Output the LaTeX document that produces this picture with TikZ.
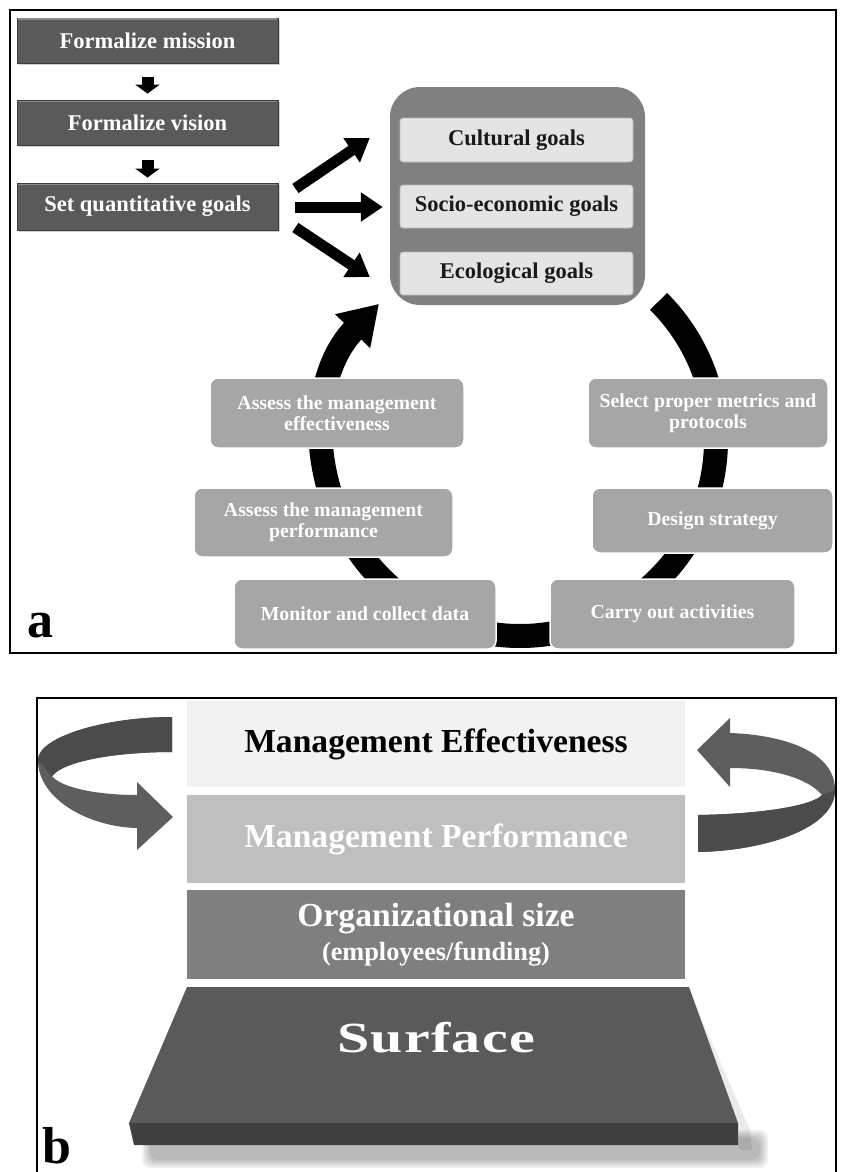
\documentclass[tikz,border=0pt]{standalone}
\usepackage{fontspec}
\setmainfont{Liberation Serif}
\usetikzlibrary{arrows.meta,calc,shadows}
\definecolor{flowgray}{HTML}{5A5A5A}
\definecolor{flowedge}{HTML}{3C3C3C}
\definecolor{flowlight}{HTML}{8A8A8A}
\definecolor{biggray}{HTML}{808080}
\definecolor{goalfill}{HTML}{E4E4E4}
\definecolor{goaledge}{HTML}{B8B8B8}
\definecolor{cyclefill}{HTML}{A6A6A6}
\definecolor{mefill}{HTML}{F2F2F2}
\definecolor{mpfill}{HTML}{BFBFBF}
\definecolor{osfill}{HTML}{7F7F7F}
\definecolor{slabtop}{HTML}{5A5A5A}
\definecolor{slabfront}{HTML}{404040}
\definecolor{ribbon}{HTML}{5E5E5E}
\definecolor{ribbondark}{HTML}{4B4B4B}
\newcommand\ftA{\bfseries\fontsize{22.5}{25}\selectfont}
\newcommand\ftC{\bfseries\fontsize{19.8}{21}\selectfont}
\newcommand\ftB{\bfseries\fontsize{33.6}{36}\selectfont}
\newcommand\ftBs{\bfseries\fontsize{26.3}{28}\selectfont}
\begin{document}
\begin{tikzpicture}[x=1pt,y=-1pt,
  flowbox/.style={rectangle,fill=flowgray,draw=flowedge,line width=0.8pt,text=white,font=\ftA,
    minimum width=261pt,minimum height=45pt,inner sep=0pt,
    drop shadow={shadow xshift=1.5pt,shadow yshift=-2pt,opacity=0.35}},
  goalbox/.style={rectangle,rounded corners=3pt,fill=goalfill,draw=goaledge,line width=0.8pt,
    text=black!90,font=\ftA,minimum width=233pt,minimum height=43pt,inner sep=0pt,
    drop shadow={shadow xshift=1.5pt,shadow yshift=-2pt,opacity=0.3}},
  cyclebox/.style={rectangle,rounded corners=8pt,fill=cyclefill,draw=white,line width=1.5pt,
    text=white,font=\ftC,align=center,inner sep=0pt,minimum height=70pt},
  blockarrow/.style={line width=11pt,-{Triangle[width=28pt,length=22pt]}},
  smallarrow/.style={line width=12pt,-{Triangle[width=24pt,length=9pt]}},
  ring/.style={line width=24pt,-{Triangle[width=46pt,length=38pt]}},
  layer/.style={rectangle,inner sep=0pt,minimum width=498pt,font=\ftB},
  framebox/.style={line width=2pt,draw=black},
  bevel/.style={draw=flowlight,line width=1.2pt}
]
\useasboundingbox (0,0) rectangle (844,1172);
\fill[white] (0,0) rectangle (844,1172);

% ---------------- Panel a ----------------
\node[flowbox] (fm) at (147.5,40.5) {Formalize mission};
\node[flowbox] (fv) at (147.5,122.5) {Formalize vision};
\node[flowbox,minimum height=47pt] (fq) at (147.5,206.5) {Set quantitative goals};
\foreach \n in {fm,fv,fq}{
  \draw[bevel] ($(\n.north west)+(1.5,1.5)$) -- ($(\n.north east)+(-1.5,1.5)$);
}

\draw[smallarrow] ($(fm.south)+(0,14)$) -- ($(fv.north)+(0,-6)$);
\draw[smallarrow] ($(fv.south)+(0,15)$) -- ($(fq.north)+(0,-5)$);

% cycle ring (behind boxes)
\coordinate (ringc) at (520,440);
\draw[ring] ($(ringc)+(-45:196)$) arc[start angle=-45,end angle=224,radius=196];

% goals container
\node[rectangle,rounded corners=30pt,fill=biggray,minimum width=255pt,minimum height=218pt,inner sep=0pt]
  (goals) at (517.5,196) {};
\node[goalbox,minimum height=44pt] (cg) at (516.5,140) {Cultural goals};
\node[goalbox] (sg) at (516.5,206.5) {Socio-economic goals};
\node[goalbox] (eg) at (516.5,273.5) {Ecological goals};

\draw[blockarrow] ($(fq.east)+(17,-18)$) -- ($(goals.west)+(-20,-58)$);
\draw[blockarrow] ($(fq.east)+(17,0.5)$) -- ($(goals.west)+(-7,11)$);
\draw[blockarrow] ($(fq.east)+(17,21)$) -- ($(goals.west)+(-20,81)$);

% cycle steps
\node[cyclebox,minimum width=254pt] (ae) at (337,413) {Assess the management\\effectiveness};
\node[cyclebox,minimum width=240pt] (sm) at (708,413) {Select proper metrics and\\protocols};
\node[cyclebox,minimum width=259pt,minimum height=69pt] (ap) at (323.5,522.5) {Assess the management\\performance};
\node[cyclebox,minimum width=241pt,minimum height=65pt] (ds) at (712.5,520.5) {Design strategy};
\node[cyclebox,minimum width=262pt] (mc) at (365,614) {Monitor and collect data};
\node[cyclebox,minimum width=245pt] (co) at (672.5,614) {Carry out activities};

\draw[framebox] (10,10) rectangle (836,653);
\node[anchor=base west,inner sep=0pt,font=\bfseries\fontsize{52}{52}\selectfont] (la) at (27,637) {a};

% ---------------- Panel b ----------------
% ribbon arrows
\fill[ribbon] (172,717) .. controls (105,717) and (38,737) .. (38,760)
  .. controls (38,800) and (90,827) .. (137,828) -- (137,850) -- (173,817) -- (137,782) -- (137,795)
  .. controls (95,795) and (60,787) .. (52,776) .. controls (65,760) and (120,752) .. (172,752) -- cycle;
\fill[ribbondark] (172,717) .. controls (105,717) and (38,737) .. (38,760) -- (52,776)
  .. controls (65,760) and (120,752) .. (172,752) -- cycle;

\fill[ribbon] (730,733) .. controls (785,735) and (835,752) .. (835,790)
  .. controls (835,830) and (760,851) .. (698,852) -- (698,815)
  .. controls (760,814) and (812,806) .. (822,795) .. controls (808,778) and (772,768) .. (730,768)
  -- (730,787) -- (697,750) -- (730,718) -- cycle;
\fill[ribbondark] (835,790) .. controls (835,830) and (760,851) .. (698,852) -- (698,815)
  .. controls (760,814) and (812,806) .. (822,795) -- cycle;

\node[layer,fill=mefill,minimum height=86pt,text=black] (me) at (436,744) {Management Effectiveness};
\node[layer,fill=mpfill,minimum height=88pt,text=white] (mp) at (436,839) {Management Performance};
\node[layer,fill=osfill,minimum height=89pt,text=white,align=center] (os) at (436,934.5)
  {Organizational size\\[-2pt]{\ftBs (employees/funding)}};

% surface slab with shadow
\foreach \o in {0,2,4,6,8}{
  \fill[black,opacity=0.06,rounded corners=8pt] (150-\o,1138-\o) rectangle (760+\o,1160+\o);
}
\fill[black,opacity=0.08] (689,990) -- (750,1130) -- (752,1150) -- (740,1150) -- cycle;
\fill[slabtop] (187,987) -- (689,987) -- (738,1123) -- (129,1123) -- cycle;
\fill[slabfront] (129,1123) -- (738,1123) -- (738,1145) -- (134,1145) -- cycle;
\node[text=white,inner sep=0pt,font=\bfseries\fontsize{43}{43}\selectfont\addfontfeature{FakeStretch=1.35,LetterSpace=3}]
  (surf) at (436,1038) {Surface};

\draw[framebox] (37,1180) -- (37,698) -- (836,698) -- (836,1180);
\node[anchor=base west,inner sep=0pt,font=\bfseries\fontsize{52}{52}\selectfont] (lb) at (42,1163) {b};
\end{tikzpicture}
\end{document}
